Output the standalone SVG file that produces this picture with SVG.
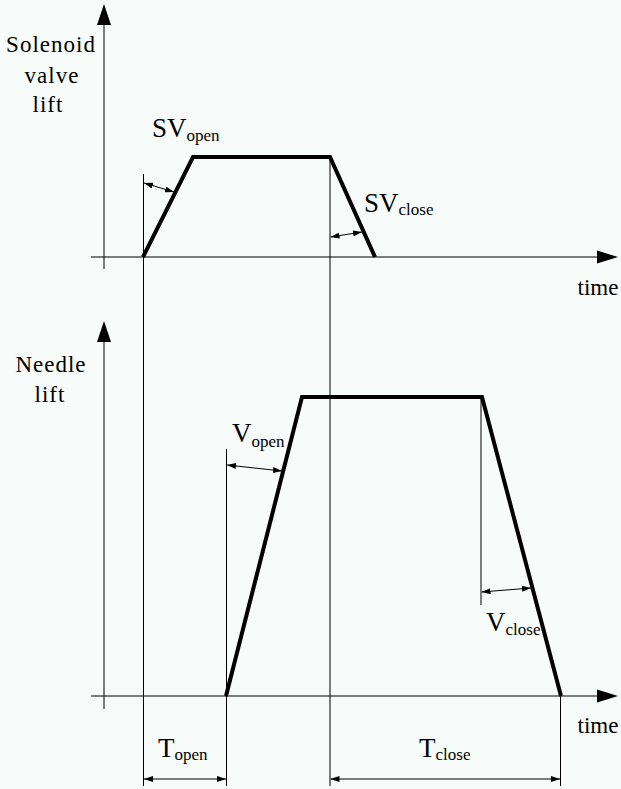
<svg xmlns="http://www.w3.org/2000/svg" width="621" height="789" viewBox="0 0 621 789">
<defs>
<marker id="ah" viewBox="0 0 9 6" refX="9" refY="3" markerWidth="9" markerHeight="6" markerUnits="userSpaceOnUse" orient="auto-start-reverse">
<path d="M0,0 L9,3 L0,6 z" fill="#000"/>
</marker>
</defs>
<style>
.thin{stroke:#000;stroke-width:1;fill:none}
.thick{stroke:#000;stroke-width:4;fill:none;stroke-linejoin:miter}
.dim{stroke:#000;stroke-width:1;fill:none;marker-start:url(#ah);marker-end:url(#ah)}
text{font-family:"Liberation Serif","Times New Roman",serif;fill:#000}
.lbl{font-size:23px;text-anchor:middle}
.big{font-size:27px}
.sub{font-size:17px}
</style>
<rect x="0" y="0" width="621" height="789" fill="#f7fbf9"/>
<g id="top-axes">
<line class="thin" x1="104" y1="20" x2="104" y2="269"/>
<polygon points="104,4 97,25 111,25" fill="#000"/>
<line class="thin" x1="91" y1="257" x2="600" y2="257"/>
<polygon points="618,257 597,250.5 597,263.5" fill="#000"/>
</g>
<g id="bottom-axes">
<line class="thin" x1="104" y1="336" x2="104" y2="709"/>
<polygon points="104,321 97,342 111,342" fill="#000"/>
<line class="thin" x1="91" y1="696" x2="600" y2="696"/>
<polygon points="618,696 597,689.5 597,702.5" fill="#000"/>
</g>
<g id="guides">
<line class="thin" x1="143.5" y1="174" x2="143.5" y2="786"/>
<line class="thin" x1="330" y1="157" x2="330" y2="786"/>
<line class="thin" x1="226.5" y1="449" x2="226.5" y2="786"/>
<line class="thin" x1="481" y1="397" x2="481" y2="605"/>
<line class="thin" x1="560.5" y1="696" x2="560.5" y2="786"/>
</g>
<g id="sv-lift">
<polyline class="thick" points="143,257 193,157 330,157 375,257"/>
</g>
<g id="needle-lift">
<polyline class="thick" points="226,696 302,397 482,397 561,696"/>
</g>
<g id="connectors">
<line class="dim" x1="144" y1="183" x2="174" y2="192"/>
<line class="dim" x1="330.5" y1="237" x2="362" y2="232"/>
<line class="dim" x1="227" y1="465" x2="282" y2="471"/>
<line class="dim" x1="481.5" y1="592" x2="531" y2="588"/>
<line class="dim" x1="144" y1="779" x2="226" y2="779"/>
<line class="dim" x1="330.5" y1="779" x2="560" y2="779"/>
</g>
<g id="axis-labels" font-family="Liberation Serif, Times New Roman, serif">
<text class="lbl" x="51" y="52" letter-spacing="1">Solenoid</text>
<text class="lbl" x="52" y="83" letter-spacing="1">valve</text>
<text class="lbl" x="48" y="112" letter-spacing="1">lift</text>
<text class="lbl" x="51" y="372" letter-spacing="1">Needle</text>
<text class="lbl" x="50" y="402" letter-spacing="1">lift</text>
<text class="lbl" x="598" y="295">time</text>
<text class="lbl" x="598" y="733">time</text>
</g>
<g id="labels" font-family="Liberation Serif, Times New Roman, serif">
<text class="big" x="152" y="137">SV<tspan class="sub" dy="4">open</tspan></text>
<text class="big" x="364" y="212">SV<tspan class="sub" dy="3">close</tspan></text>
<text class="big" x="232" y="442">V<tspan class="sub" dy="5">open</tspan></text>
<text class="big" x="486" y="631">V<tspan class="sub" dy="4">close</tspan></text>
<text class="big" x="158" y="757">T<tspan class="sub" dy="3">open</tspan></text>
<text class="big" x="419" y="757">T<tspan class="sub" dy="3">close</tspan></text>
</g>
</svg>
